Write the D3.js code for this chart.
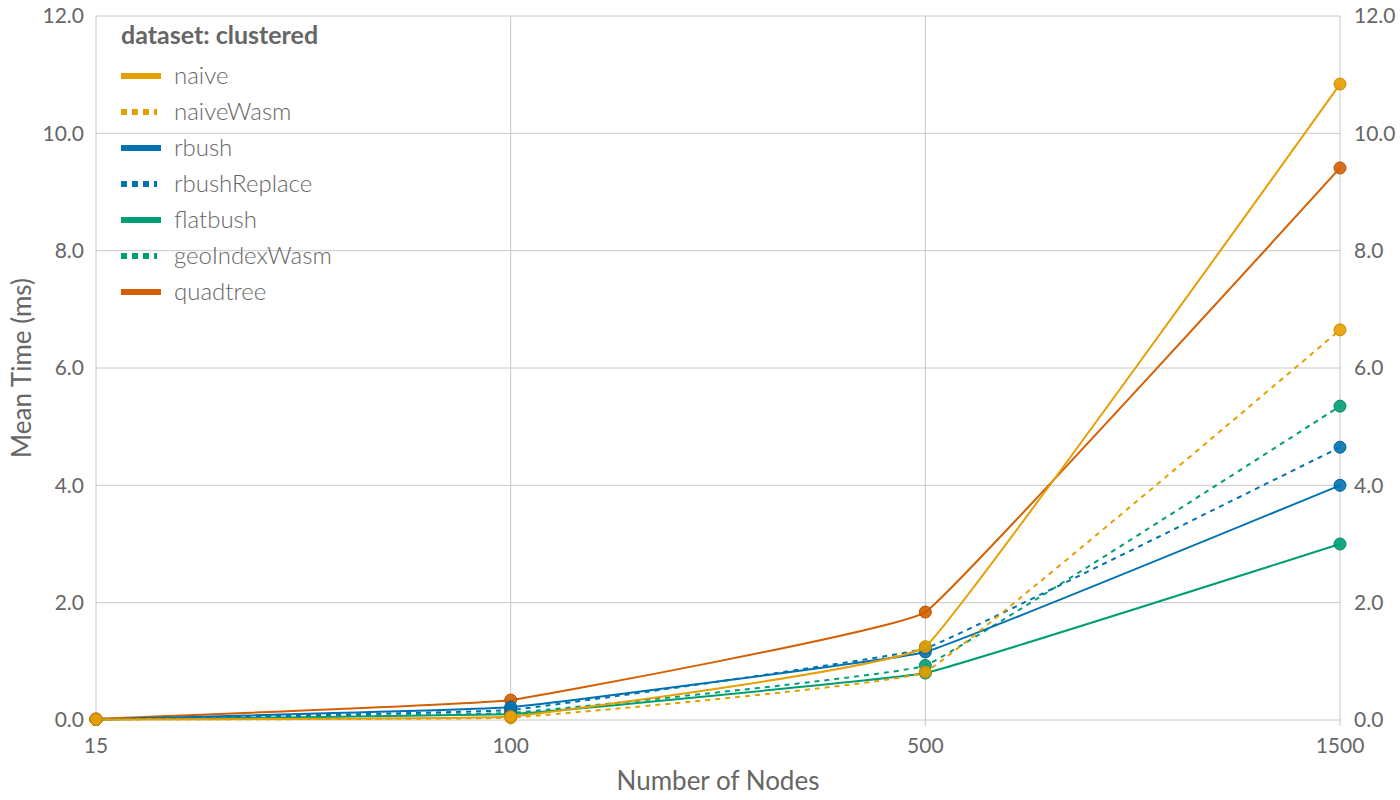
<!DOCTYPE html>
<html>
<head>
<meta charset="utf-8">
<script src="https://cdn.jsdelivr.net/npm/d3@7"></script>
<style>
  body { margin: 0; background: #fff; }
  svg text { font-family: Lato, "Open Sans", sans-serif; fill: #666; }
</style>
</head>
<body>
<div class="chart"></div>
<script>
const width = 1400;
const height = 800;
const margin = { top: 16, right: 60, bottom: 80, left: 96 };

// data
const nodes = ["15", "100", "500", "1500"];
const seriesNames = ["naive", "naiveWasm", "rbush", "rbushReplace", "flatbush", "geoIndexWasm", "quadtree"];
const naive = [0.01, 0.06, 1.25, 10.84];
const naiveWasm = [0.01, 0.04, 0.82, 6.65];
const rbush = [0.01, 0.22, 1.16, 4.0];
const rbushReplace = [0.01, 0.17, 1.22, 4.65];
const flatbush = [0.01, 0.1, 0.8, 3.0];
const geoIndexWasm = [0.01, 0.12, 0.93, 5.35];
const quadtree = [0.02, 0.34, 1.84, 9.41];
const yTicks = [0, 2, 4, 6, 8, 10, 12];

const values = { naive, naiveWasm, rbush, rbushReplace, flatbush, geoIndexWasm, quadtree };
const colors = {
    naive: "#E69F00", naiveWasm: "#E69F00",
    rbush: "#0072B2", rbushReplace: "#0072B2",
    flatbush: "#009E73", geoIndexWasm: "#009E73",
    quadtree: "#D55E00"
};
const dashed = { naiveWasm: true, rbushReplace: true, geoIndexWasm: true };

let svg = d3.select(".chart").append("svg")
    .attr("width", width)
    .attr("height", height);

let xScale = d3.scalePoint()
    .domain(nodes)
    .range([margin.left, width - margin.right]);
let yScale = d3.scaleLinear()
    .domain([0, 12])
    .range([height - margin.bottom, margin.top]);

// grid
svg.append("g").selectAll("line.h")
    .data(yTicks).enter().append("line")
    .attr("x1", margin.left).attr("x2", width - margin.right)
    .attr("y1", d => yScale(d)).attr("y2", d => yScale(d))
    .attr("stroke", "#c8c8c8").attr("stroke-width", 1);
svg.append("g").selectAll("line.v")
    .data(nodes).enter().append("line")
    .attr("x1", d => xScale(d)).attr("x2", d => xScale(d))
    .attr("y1", margin.top).attr("y2", height - margin.bottom + 6)
    .attr("stroke", "#c8c8c8").attr("stroke-width", 1);

// axes labels
svg.append("g").selectAll("text")
    .data(yTicks).enter().append("text")
    .attr("x", margin.left - 12).attr("y", d => yScale(d))
    .attr("dy", "0.35em").attr("text-anchor", "end")
    .attr("font-size", 21)
    .text(d => d.toFixed(1));
svg.append("g").selectAll("text")
    .data(yTicks).enter().append("text")
    .attr("x", width - margin.right + 14).attr("y", d => yScale(d))
    .attr("dy", "0.35em").attr("text-anchor", "start")
    .attr("font-size", 21)
    .text(d => d.toFixed(1));
svg.append("g").selectAll("text")
    .data(nodes).enter().append("text")
    .attr("x", d => xScale(d)).attr("y", height - margin.bottom + 33)
    .attr("text-anchor", "middle")
    .attr("font-size", 21)
    .text(d => d);

svg.append("text")
    .text("Number of Nodes")
    .attr("text-anchor", "middle")
    .attr("x", (margin.left + width - margin.right) / 2)
    .attr("y", height - 10)
    .attr("font-size", 26);
svg.append("text")
    .text("Mean Time (ms)")
    .attr("text-anchor", "middle")
    .attr("transform", "translate(31," + yScale(6) + ") rotate(-90)")
    .attr("font-size", 26);

// lines, drawn in reverse so naive is on top
let line = d3.line()
    .x((d, i) => xScale(nodes[i]))
    .y(d => yScale(d))
    .curve(d3.curveCardinal.tension(0.8));

seriesNames.slice().reverse().forEach(name => {
    let g = svg.append("g");
    g.append("path")
        .datum(values[name])
        .attr("d", line)
        .attr("fill", "none")
        .attr("stroke", colors[name])
        .attr("stroke-width", 2)
        .attr("stroke-dasharray", dashed[name] ? "5,5" : null);
    g.selectAll("circle")
        .data(values[name]).enter().append("circle")
        .attr("cx", (d, i) => xScale(nodes[i]))
        .attr("cy", d => yScale(d))
        .attr("r", 6)
        .attr("fill", colors[name])
        .attr("fill-opacity", 0.9)
        .attr("stroke", d3.color(colors[name]).darker(0.4))
        .attr("stroke-width", 1);
});

// legend
let legend = svg.append("g").attr("transform", "translate(121,0)");
legend.append("text")
    .text("dataset: clustered")
    .attr("x", 0).attr("y", 44)
    .attr("font-size", 25)
    .attr("font-weight", "bold");
seriesNames.forEach((name, i) => {
    let y = 76 + i * 36;
    legend.append("line")
        .attr("x1", 0).attr("x2", dashed[name] ? 36 : 40)
        .attr("y1", y).attr("y2", y)
        .attr("stroke", colors[name])
        .attr("stroke-width", 6)
        .attr("stroke-dasharray", dashed[name] ? "6,5" : null);
    legend.append("text")
        .text(name)
        .attr("x", 53).attr("y", y)
        .attr("dy", "0.35em")
        .attr("font-size", 24)
        .attr("font-weight", 300);
});
</script>
</body>
</html>
